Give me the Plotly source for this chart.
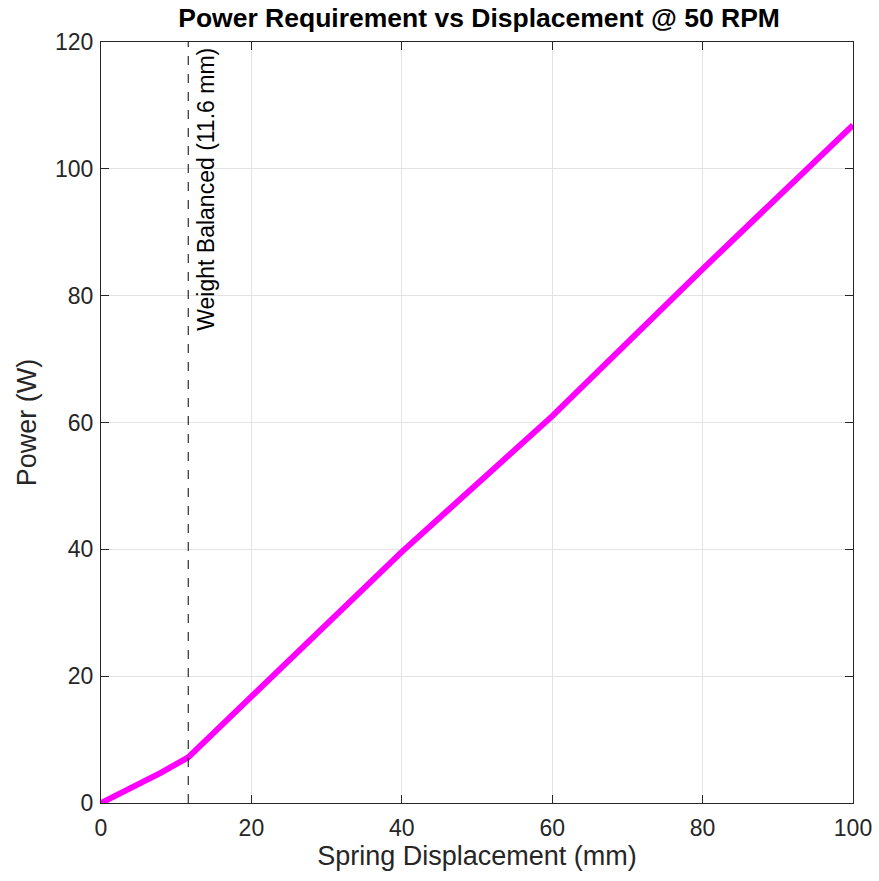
import plotly.graph_objects as go

disp_mm = [0, 4, 8, 11.6, 20, 40, 60, 80, 100]
power_w = [0, 2.3, 4.8, 7.2, 16.7, 39.6, 61.0, 84.2, 106.9]
balance_mm = 11.6
x_ticks = [0, 20, 40, 60, 80, 100]
y_ticks = [0, 20, 40, 60, 80, 100, 120]

fig = go.Figure()
fig.add_trace(go.Scatter(x=disp_mm, y=power_w, mode="lines",
                         line=dict(color="#ff00ff", width=6), showlegend=False))
fig.add_shape(type="line", x0=balance_mm, x1=balance_mm, y0=0, y1=120, xref="x", yref="y",
              line=dict(color="black", width=1, dash="dash"))
fig.add_annotation(x=balance_mm, y=120, xref="x", yref="y", text="Weight Balanced (11.6 mm)",
                   textangle=-90, showarrow=False, xanchor="left", yanchor="top",
                   xshift=2, yshift=-4, font=dict(size=23, color="black"))

axis_common = dict(showgrid=True, gridcolor="#e3e3e3", gridwidth=1, showline=True,
                   linecolor="#262626", linewidth=1, mirror="allticks", ticks="inside",
                   ticklen=8, tickcolor="#262626", zeroline=False, automargin=False,
                   tickfont=dict(size=23, color="#262626"))
fig.update_xaxes(range=[0, 100], tickvals=x_ticks, ticklabelstandoff=4,
                 title=dict(text="Spring Displacement (mm)", font=dict(size=27, color="#262626"), standoff=4),
                 **axis_common)
fig.update_yaxes(range=[0, 120], tickvals=y_ticks, ticklabelstandoff=2,
                 title=dict(text="Power (W)", font=dict(size=27, color="#262626"), standoff=10),
                 **axis_common)
fig.update_layout(
    width=879, height=881,
    margin=dict(l=101, r=26, t=42, b=78),
    paper_bgcolor="white", plot_bgcolor="white",
    font=dict(family="Liberation Sans, Arial, sans-serif"),
    title=dict(text="<b>Power Requirement vs Displacement @ 50 RPM</b>", x=0.545, xanchor="center",
               y=0.98, yanchor="middle", font=dict(size=26.5, color="black")),
)
fig.write_html("out.html")
